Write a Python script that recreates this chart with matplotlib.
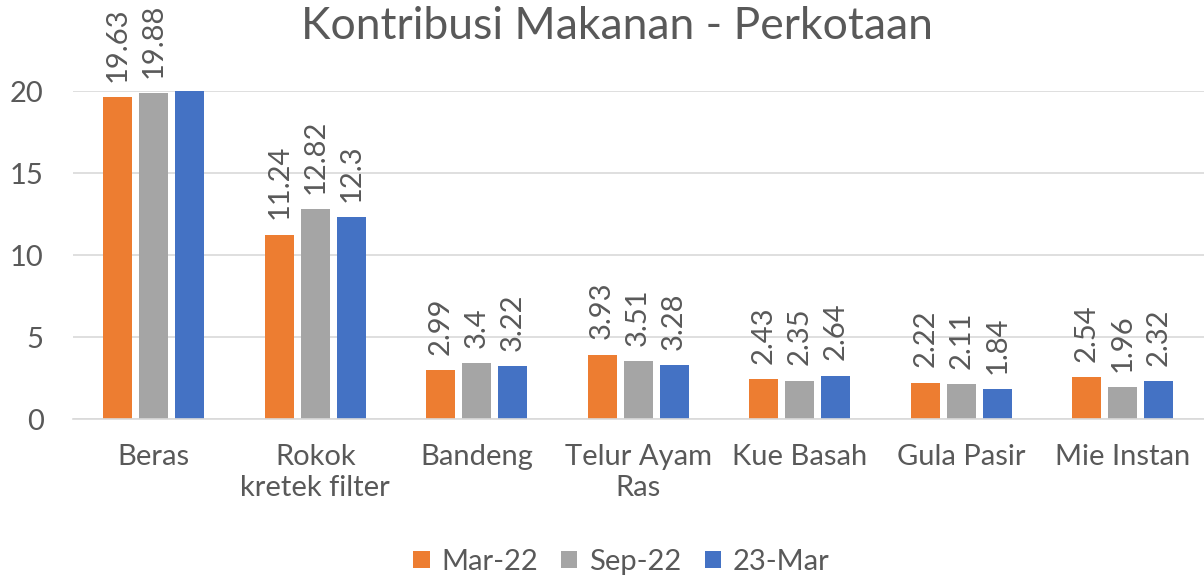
import numpy as np
import matplotlib
matplotlib.use("Agg")
import matplotlib.pyplot as plt

plt.rcParams['font.family'] = ['Lato', 'DejaVu Sans']

categories = ["Beras", "Rokok\nkretek filter", "Bandeng", "Telur Ayam\nRas",
              "Kue Basah", "Gula Pasir", "Mie Instan"]
series_names = ["Mar-22", "Sep-22", "23-Mar"]
mar22 = [19.63, 11.24, 2.99, 3.93, 2.43, 2.22, 2.54]
sep22 = [19.88, 12.82, 3.4, 3.51, 2.35, 2.11, 1.96]
mar23 = [20.3, 12.3, 3.22, 3.28, 2.64, 1.84, 2.32]  # Beras value clipped in source
label_mar23 = [None, "12.3", "3.22", "3.28", "2.64", "1.84", "2.32"]

colors = ["#ED7D31", "#A5A5A5", "#4472C4"]
txt = "#595959"
fs = 21

fig = plt.figure(figsize=(12.04, 5.78), dpi=100)
ax = fig.add_axes([0.0606, 0.275, 0.939, 0.5675])

x = np.arange(len(categories))
w = 0.18
step = 0.223
all_series = [mar22, sep22, mar23]
labels = [[f"{v:g}" for v in mar22], [f"{v:g}" for v in sep22], label_mar23]
for i, (vals, col) in enumerate(zip(all_series, colors)):
    pos = x + (i - 1) * step
    ax.bar(pos, vals, width=w, color=col, label=series_names[i], zorder=2)
    for p, v, lab in zip(pos, vals, labels[i]):
        if lab is None:
            continue
        ax.annotate(lab, (p, v), xytext=(0, 11), textcoords="offset points",
                    rotation=90, ha="center", va="bottom", fontsize=fs,
                    color=txt, annotation_clip=False)

ax.set_xlim(-0.5, len(categories) - 0.5)
ax.set_ylim(0, 20)
ax.set_yticks([0, 5, 10, 15, 20])
ax.set_xticks(x)
ax.set_xticklabels(categories, fontsize=fs, color=txt, linespacing=1.25)
ax.tick_params(axis="y", labelsize=fs, colors=txt, length=0, pad=21)
ax.tick_params(axis="x", length=0, pad=18)
ax.grid(axis="y", color="#D9D9D9", linewidth=1.2, zorder=0)
for s in ["top", "right", "left"]:
    ax.spines[s].set_visible(False)
ax.spines["bottom"].set_color("#D9D9D9")
ax.spines["bottom"].set_linewidth(1.2)

fig.text(0.512, 0.955, "Kontribusi Makanan - Perkotaan", ha="center", va="center",
         fontsize=32, color=txt)

fig.legend(loc="center", bbox_to_anchor=(0.516, 0.028), ncol=3, frameon=False,
           fontsize=fs, handlelength=0.55, handleheight=0.55, handletextpad=0.4,
           columnspacing=0.8, labelcolor=txt)

fig.savefig("out.png", dpi=100)
